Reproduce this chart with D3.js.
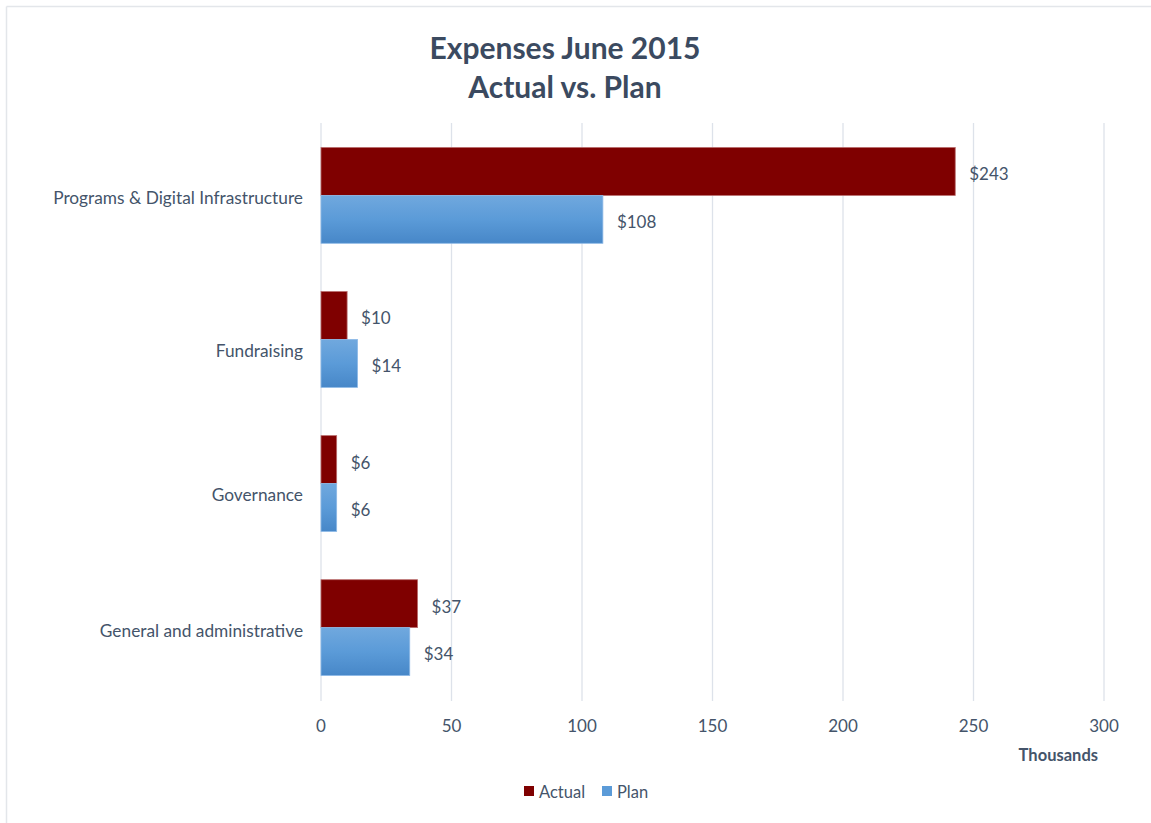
<!DOCTYPE html>
<html>
<head>
<meta charset="utf-8">
<script src="https://cdn.jsdelivr.net/npm/d3@7"></script>
<style>
  html, body { margin: 0; padding: 0; background: #fff; }
  svg { display: block; font-family: Lato, "Open Sans", sans-serif; }
</style>
</head>
<body>
<div id="chart"></div>
<script>
// Chart data
const categories = ['Programs & Digital Infrastructure', 'Fundraising', 'Governance', 'General and administrative'];
const actualValues = [243, 10, 6, 37];
const planValues = [108, 14, 6, 34];
const seriesNames = ['Actual', 'Plan'];
const tickValues = [0, 50, 100, 150, 200, 250, 300];

const width = 1151;
const height = 823;
const margin = { top: 123, right: 47, bottom: 123, left: 321 };
const innerW = width - margin.left - margin.right;
const innerH = height - margin.top - margin.bottom;
const textColor = '#44546a';
// small vertical nudges of the category labels, as in the original layout
const labelNudge = [3, 11, 11, 3];

const svg = d3.select('#chart').append('svg')
  .attr('width', width)
  .attr('height', height);

// Gradient for the plan bars
const defs = svg.append('defs');
const grad = defs.append('linearGradient')
  .attr('id', 'planGrad')
  .attr('x1', 0).attr('y1', 0).attr('x2', 0).attr('y2', 1);
grad.append('stop').attr('offset', '0%').attr('stop-color', '#70a8de');
grad.append('stop').attr('offset', '50%').attr('stop-color', '#5b9bd8');
grad.append('stop').attr('offset', '100%').attr('stop-color', '#4787c8');

// Frame (top and left edges only visible)
svg.append('line')
  .attr('x1', 6.5).attr('x2', width).attr('y1', 6.5).attr('y2', 6.5)
  .style('stroke', '#e3e6ea').style('stroke-width', 1.5);
svg.append('line')
  .attr('x1', 6.5).attr('x2', 6.5).attr('y1', 6.5).attr('y2', height)
  .style('stroke', '#e3e6ea').style('stroke-width', 1.5);

// Title
const title = svg.append('text')
  .attr('text-anchor', 'middle')
  .style('fill', '#3b4a60')
  .style('font-weight', 'bold')
  .style('font-size', '30px');
title.append('tspan').attr('x', 565).attr('y', 59).text('Expenses June 2015');
title.append('tspan').attr('x', 565).attr('y', 98).text('Actual vs. Plan');

const g = svg.append('g')
  .attr('transform', `translate(${margin.left},${margin.top})`);

const x = d3.scaleLinear()
  .domain([0, 300])
  .range([0, innerW]);

const y0 = d3.scaleBand()
  .domain(categories)
  .range([0, innerH])
  .paddingInner(0.335)
  .paddingOuter(0.17);

const y1 = d3.scaleBand()
  .domain(seriesNames)
  .range([0, y0.bandwidth()]);

// Gridlines
g.selectAll('line.grid')
  .data(tickValues)
  .enter().append('line')
  .attr('class', 'grid')
  .attr('x1', d => x(d))
  .attr('x2', d => x(d))
  .attr('y1', 0)
  .attr('y2', innerH + 1)
  .style('stroke', '#dde2ea')
  .style('stroke-width', 1.3);

// Tick labels
g.selectAll('text.tick')
  .data(tickValues)
  .enter().append('text')
  .attr('class', 'tick')
  .attr('x', d => x(d))
  .attr('y', innerH + 32)
  .attr('text-anchor', 'middle')
  .style('fill', textColor)
  .style('font-size', '17px')
  .text(d => d);

// Axis unit label
svg.append('text')
  .attr('x', 1098)
  .attr('y', 761)
  .attr('text-anchor', 'end')
  .style('fill', textColor)
  .style('font-weight', 'bold')
  .style('font-size', '16.5px')
  .text('Thousands');

// Category labels
g.selectAll('text.cat')
  .data(categories)
  .enter().append('text')
  .attr('class', 'cat')
  .attr('x', -18)
  .attr('y', (d, i) => y0(d) + y0.bandwidth() / 2 + labelNudge[i])
  .attr('dy', '0.35em')
  .attr('text-anchor', 'end')
  .style('fill', textColor)
  .style('font-size', '17.3px')
  .text(d => d);

const rows = categories.map((c, i) => ({
  category: c,
  values: [
    { series: 'Actual', value: actualValues[i] },
    { series: 'Plan', value: planValues[i] }
  ]
}));

const groups = g.selectAll('g.row')
  .data(rows)
  .enter().append('g')
  .attr('class', 'row')
  .attr('transform', d => `translate(0,${y0(d.category)})`);

groups.selectAll('rect')
  .data(d => d.values)
  .enter().append('rect')
  .attr('x', x(0))
  .attr('y', d => y1(d.series))
  .attr('width', d => x(d.value) - x(0))
  .attr('height', y1.bandwidth())
  .style('fill', d => (d.series === 'Actual' ? '#7f0000' : 'url(#planGrad)'))
  .style('stroke', d => (d.series === 'Actual' ? '#b86b6b' : '#8cb8e6'))
  .style('stroke-width', 0.8);

groups.selectAll('text.val')
  .data(d => d.values)
  .enter().append('text')
  .attr('class', 'val')
  .attr('x', d => x(d.value) + 14)
  .attr('y', d => y1(d.series) + y1.bandwidth() / 2 + 3)
  .attr('dy', '0.35em')
  .style('fill', textColor)
  .style('font-size', '17px')
  .text(d => `$${d.value}`);

// Legend
const legendColors = ['#7f0000', '#5b9bd8'];
const legend = svg.append('g')
  .attr('transform', 'translate(524,792)');
const legendOffsets = [0, 78];
seriesNames.forEach((name, i) => {
  const item = legend.append('g')
    .attr('transform', `translate(${legendOffsets[i]},0)`);
  item.append('rect')
    .attr('x', 0)
    .attr('y', -6)
    .attr('width', 10)
    .attr('height', 10)
    .style('fill', legendColors[i]);
  item.append('text')
    .attr('x', 15)
    .attr('y', 0)
    .attr('dy', '0.35em')
    .style('fill', textColor)
    .style('font-size', '16.5px')
    .text(name);
});
</script>
</body>
</html>
